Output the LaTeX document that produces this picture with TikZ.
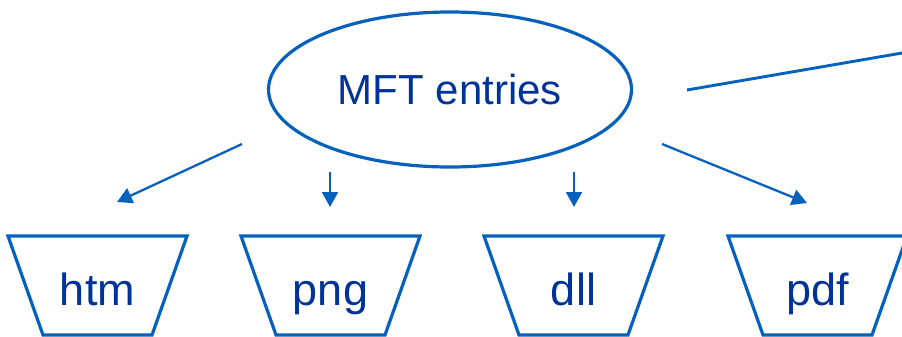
\documentclass[tikz,border=0pt]{standalone}
\usepackage{fontspec}
\setmainfont{Liberation Sans}
\usetikzlibrary{shapes.geometric,arrows.meta}
\definecolor{lineblue}{HTML}{0561BC}
\definecolor{textblue}{HTML}{003399}
\tikzset{
  shapeline/.style={draw=lineblue, line width=3.2pt, line join=miter},
  conn/.style={draw=lineblue, line width=2.3pt, -{Triangle[length=15pt,width=16pt]}},
  plainline/.style={draw=lineblue, line width=2.9pt},
  mainlbl/.style={text=textblue, font=\fontsize{42}{50}\selectfont, inner sep=0pt},
  filelbl/.style={text=textblue, font=\fontsize{45}{54}\selectfont, inner sep=0pt, anchor=base},
}
\begin{document}
\begin{tikzpicture}[x=1pt,y=-1pt]
\useasboundingbox (0,0) rectangle (902,337);
\clip (0,0) rectangle (902,337);
% ellipse
\node[shapeline, ellipse, minimum width=363pt, minimum height=155pt, inner sep=0pt] (mft) at (450,89.5) {};
\node[mainlbl] (mfttext) at (mft.center) {MFT entries};
% trapezoids
\draw[shapeline, shift={(97.5,0)}] (-89.5,236) -- (89.5,236) -- (54.5,335) -- (-54.5,335) -- cycle;
\draw[shapeline, shift={(330.5,0)}] (-89.5,236) -- (89.5,236) -- (54.5,335) -- (-54.5,335) -- cycle;
\draw[shapeline, shift={(573.5,0)}] (-89.5,236) -- (89.5,236) -- (54.5,335) -- (-54.5,335) -- cycle;
\draw[shapeline, shift={(817.5,0)}] (-89.5,236) -- (89.5,236) -- (54.5,335) -- (-54.5,335) -- cycle;
\node[filelbl] (htm) at (97.5,305) {htm};
\node[filelbl] (png) at (330.5,305) {png};
\node[filelbl] (dll) at (573.5,305) {dll};
\node[filelbl] (pdf) at (817.5,305) {pdf};
% connector endpoints
\coordinate (a1s) at (242,144);
\coordinate (a1e) at (117,202);
\coordinate (a2s) at (330,172);
\coordinate (a2e) at (330,207);
\coordinate (a3s) at (574,172);
\coordinate (a3e) at (574,207);
\coordinate (a4s) at (662,144);
\coordinate (a4e) at (807,203);
\coordinate (ls) at (687,90);
\coordinate (le) at (912,51.3);
\draw[conn] (a1s) -- (a1e);
\draw[conn] (a2s) -- (a2e);
\draw[conn] (a3s) -- (a3e);
\draw[conn] (a4s) -- (a4e);
\draw[plainline] (ls) -- (le);
\end{tikzpicture}
\end{document}
